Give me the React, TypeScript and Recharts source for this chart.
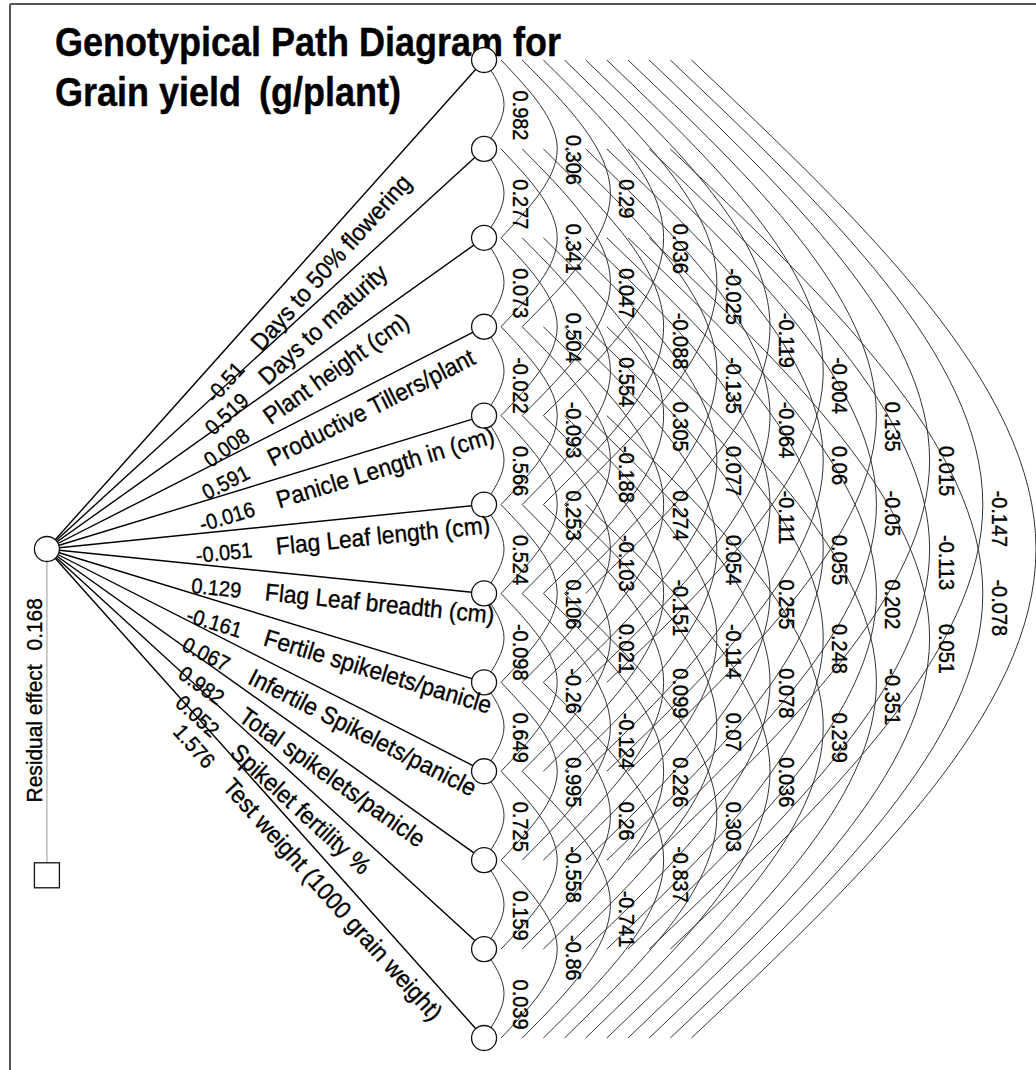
import React from "react";
import { ComposedChart, Line, Scatter, XAxis, YAxis } from "recharts";

// traits, top to bottom
const traits = [
  "Days to 50% flowering",
  "Days to maturity",
  "Plant height (cm)",
  "Productive Tillers/plant",
  "Panicle Length in (cm)",
  "Flag Leaf length (cm)",
  "Flag Leaf breadth (cm)",
  "Fertile spikelets/panicle",
  "Infertile Spikelets/panicle",
  "Total spikelets/panicle",
  "Spikelet fertility %",
  "Test weight (1000 grain weight)",
];

// direct effects on grain yield
const directEffects = [-0.51, 0.519, 0.008, 0.591, -0.016, -0.051, 0.129, -0.161, 0.067, 0.982, 0.052, 1.576];
const residualEffect = 0.168;

// genotypic correlations, grouped by distance between traits (span 1 = neighbours)
const corrSpan1 = [0.982, 0.277, 0.073, -0.022, 0.566, 0.524, -0.098, 0.649, 0.725, 0.159, 0.039];
const corrSpan2 = [0.306, 0.341, 0.504, -0.093, 0.253, 0.106, -0.26, 0.995, -0.558, -0.86];
const corrSpan3 = [0.29, 0.047, 0.554, -0.188, -0.103, 0.021, -0.124, 0.26, -0.741];
const corrSpan4 = [0.036, -0.088, 0.305, 0.274, -0.151, 0.099, 0.226, -0.837];
const corrSpan5 = [-0.025, -0.135, 0.077, 0.054, -0.114, 0.07, 0.303];
const corrSpan6 = [-0.119, -0.064, -0.111, 0.255, 0.078, 0.036];
const corrSpan7 = [-0.004, 0.06, 0.055, 0.248, 0.239];
const corrSpan8 = [0.135, -0.05, 0.202, -0.351];
const corrSpan9 = [0.015, -0.113, 0.051];
const corrSpan10 = [-0.147, -0.078];
const correlationsBySpan = [corrSpan1, corrSpan2, corrSpan3, corrSpan4, corrSpan5, corrSpan6, corrSpan7, corrSpan8, corrSpan9, corrSpan10];

// layout
const W = 1036;
const H = 1070;
const TOP = 60;
const BOTTOM = 32;
const N = traits.length;
const STEP = (H - TOP - BOTTOM) / (N - 1); // px per trait row
const HUB_X = 47;
const HUB_Y = (N - 1) / 2;
const NODE_X = 485;
const NODE_R = 12.5;
const LABEL_X = 194;
const RES_Y = 9.17;
const FONT = "'Liberation Sans', Arial, Helvetica, sans-serif";
const SX = 0.93; // text is a little condensed in the original

const arcStart = (k: number) => (k === 1 ? NODE_X : 502 + 21.2 * (k - 2));
const arcApex = (k: number) => 505 + 53.3 * (k - 1);
const arcLabelX = (k: number) => 514 + 53.3 * (k - 1);

const arcs: { key: string; points: { x: number; y: number }[] }[] = [];
const arcLabels: { x: number; y: number; value: number }[] = [];
for (let k = 1; k < N; k++) {
  for (let i = 0; i + k < N; i++) {
    const j = i + k;
    arcs.push({
      key: `arc-${i}-${j}`,
      points: [
        { x: arcStart(k), y: i },
        { x: arcApex(k), y: (i + j) / 2 },
        { x: arcStart(k), y: j },
      ],
    });
    const v = correlationsBySpan[k - 1]?.[i];
    if (v !== undefined) arcLabels.push({ x: arcLabelX(k), y: (i + j) / 2, value: v });
  }
}

const spokes = traits.map((_, i) => [
  { x: HUB_X, y: HUB_Y },
  { x: NODE_X, y: i },
]);
const nodes = traits.map((_, i) => ({ x: NODE_X, y: i }));
const hub = [{ x: HUB_X, y: HUB_Y }];
const residual = [{ x: HUB_X, y: RES_Y }];
const residualLine = [
  { x: HUB_X, y: HUB_Y },
  { x: HUB_X, y: RES_Y },
];

const t = (LABEL_X - HUB_X) / (NODE_X - HUB_X);
const spokeLabels = traits.map((name, i) => ({
  x: LABEL_X,
  y: HUB_Y + (i - HUB_Y) * t,
  name,
  value: directEffects[i],
  angle: (Math.atan2((i - HUB_Y) * STEP, NODE_X - HUB_X) * 180) / Math.PI,
}));

const textStyle = { fontFamily: FONT, fill: "#000", stroke: "#000", strokeWidth: 0.35 };

const NodeShape = (p: any) => <circle cx={p.cx} cy={p.cy} r={NODE_R} fill="#fff" stroke="#111" strokeWidth={1.3} />;

const ResidualShape = (p: any) => (
  <g>
    <rect x={p.cx - 12.5} y={p.cy - 12.5} width={25} height={25} fill="#fff" stroke="#111" strokeWidth={1.3} />
    <g transform={`translate(${p.cx - 5},${p.cy - 175}) rotate(-90) scale(${SX},1)`}>
      <text textAnchor="middle" fontSize={22.5} {...textStyle}>
        Residual effect
        <tspan dx={15}>{residualEffect}</tspan>
      </text>
    </g>
  </g>
);

const SpokeLabel = (p: any) => {
  const d = p.payload;
  return (
    <g transform={`translate(${p.cx},${p.cy}) rotate(${d.angle}) scale(${SX},1)`}>
      <text x={0} y={29} fontSize={21.5} {...textStyle}>
        {String(d.value)}
        <tspan dx={24 / SX} fontSize={24.5}>
          {d.name}
        </tspan>
      </text>
    </g>
  );
};

const ArcLabel = (p: any) => (
  <g transform={`translate(${p.cx},${p.cy}) rotate(90) scale(${SX},1)`}>
    <text x={-14 / SX} y={0} fontSize={21.5} {...textStyle}>
      {String(p.payload.value)}
    </text>
  </g>
);

export default function App() {
  return (
    <div style={{ position: "absolute", left: 0, top: 0, width: W, height: H, background: "#fff", overflow: "hidden" }}>
      <svg width={W} height={H} style={{ position: "absolute", left: 0, top: 0 }}>
        <line x1={10} y1={4} x2={W} y2={4} stroke="#555" strokeWidth={2} />
        <line x1={10} y1={4} x2={10} y2={H} stroke="#555" strokeWidth={2} />
        <g transform="translate(55,56) scale(0.9,1)">
          <text fontFamily={FONT} fontWeight="bold" fontSize={40} fill="#000" stroke="#000" strokeWidth={0.4}>
            Genotypical Path Diagram for
          </text>
        </g>
        <g transform="translate(55,106) scale(0.9,1)">
          <text fontFamily={FONT} fontWeight="bold" fontSize={40} fill="#000" stroke="#000" strokeWidth={0.4}>
            Grain yield<tspan dx={20}>(g/plant)</tspan>
          </text>
        </g>
      </svg>
      <div style={{ position: "absolute", left: 0, top: 0 }}>
        <ComposedChart width={W} height={H} margin={{ top: TOP, bottom: BOTTOM, left: 0, right: 0 }}>
          <XAxis type="number" dataKey="x" domain={[0, W]} hide />
          <YAxis type="number" dataKey="y" domain={[0, N - 1]} reversed hide />
          {arcs.map((a) => (
            <Line
              key={a.key}
              data={a.points}
              dataKey="y"
              type="natural"
              stroke="#333"
              strokeWidth={1}
              dot={false}
              activeDot={false}
              isAnimationActive={false}
              legendType="none"
            />
          ))}
          {spokes.map((s, i) => (
            <Line
              key={`spoke-${i}`}
              data={s}
              dataKey="y"
              type="linear"
              stroke="#000"
              strokeWidth={1.4}
              dot={false}
              activeDot={false}
              isAnimationActive={false}
              legendType="none"
            />
          ))}
          <Line
            data={residualLine}
            dataKey="y"
            type="linear"
            stroke="#aaa"
            strokeWidth={1.2}
            dot={false}
            activeDot={false}
            isAnimationActive={false}
            legendType="none"
          />
          <Scatter data={nodes} shape={NodeShape} isAnimationActive={false} />
          <Scatter data={hub} shape={NodeShape} isAnimationActive={false} />
          <Scatter data={residual} shape={ResidualShape} isAnimationActive={false} />
          <Scatter data={spokeLabels} shape={SpokeLabel} isAnimationActive={false} />
          <Scatter data={arcLabels} shape={ArcLabel} isAnimationActive={false} />
        </ComposedChart>
      </div>
    </div>
  );
}
